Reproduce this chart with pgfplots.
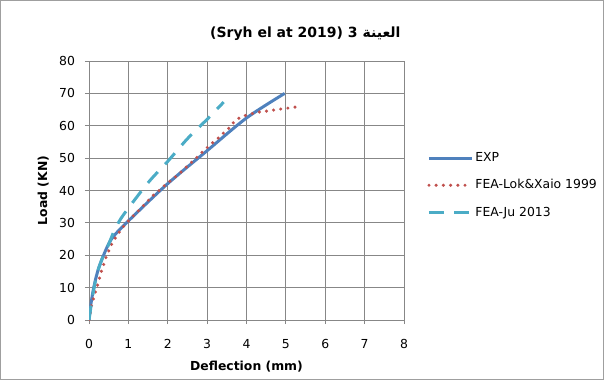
\documentclass[border=0pt]{standalone}
\usepackage{pgfplots}
\pgfplotsset{compat=1.18}
\usepackage{fontspec}
\setmainfont{DejaVu Sans}
\newfontfamily\arabicfont[Script=Arabic]{DejaVu Sans}
\TeXXeTstate=1
\definecolor{expblue}{HTML}{4F81BD}
\definecolor{lokred}{HTML}{C0504D}
\definecolor{jucyan}{HTML}{4BACC6}
\definecolor{gridgray}{HTML}{878787}
\begin{document}
\begin{tikzpicture}
\useasboundingbox (0,0) rectangle (453pt,285pt);
\draw[gridgray!80, line width=0.6pt] (0.3pt,0.3pt) rectangle (452.7pt,284.7pt);
\node[font=\bfseries\fontsize{10.5}{13}\selectfont] at (229pt,260pt) {(Sryh el at 2019) 3 {\arabicfont\bfseries\beginR العينة\endR}};
\begin{axis}[
  at={(66.75pt,45pt)}, anchor=south west,
  scale only axis, width=236.25pt, height=194.25pt,
  xmin=0, xmax=8, ymin=0, ymax=80,
  xtick={0,1,...,8}, ytick={0,10,...,80},
  grid=both, grid style={gridgray, line width=0.6pt},
  axis line style={gridgray, line width=0.6pt},
  tick style={gridgray, line width=0.6pt},
  tick align=outside, major tick length=3pt,
  xtick pos=bottom, ytick pos=left,
  tick label style={font=\fontsize{9.3}{11}\selectfont, /pgf/number format/assume math mode=true},
  xticklabel style={yshift=-8pt},
  yticklabel style={xshift=-4pt},
  xlabel={\textbf{Deflection (mm)}}, ylabel={\textbf{Load (KN)}},
  label style={font=\fontsize{9.3}{11}\selectfont},
  xlabel style={yshift=-2pt},
  ylabel style={yshift=1pt},
  legend style={at={(1.073,0.52)}, anchor=west, draw=none, fill=none, inner sep=0pt,
    nodes={inner xsep=1.5pt, inner ysep=1pt},
    font=\fontsize{9.3}{11}\selectfont, row sep=10pt, legend cell align=left},
  legend image code/.code={\draw[#1] (0pt,0pt) -- (32pt,0pt);},
]
\addplot[expblue, line width=2.25pt, smooth, tension=0.5] coordinates {
(0,0) (0.05,5) (0.12,10) (0.22,15) (0.37,20) (0.57,25) (0.95,30) (1.97,41.8) (2.98,52.1) (4.0,62.4) (4.97,70)
};
\addlegendentry{EXP}
\addplot[lokred, line width=2.6pt, line cap=round, dash pattern=on 0pt off 5.4pt] coordinates {
(0,0) (0.06,4.4) (0.13,7.3) (0.19,9.7) (0.25,12.1) (0.3,14.5) (0.36,16.7) (0.42,19) (0.5,21.3) (0.58,23.6) (0.68,25.6) (0.8,27.7) (0.93,29.7) (1.06,31.4) (1.22,33.3) (1.36,35) (1.48,36.6) (1.63,38.5) (1.77,39.9) (1.92,41.5) (2.08,43.1) (2.24,44.6) (2.39,46.3) (2.53,47.9) (2.68,49.5) (2.81,51.1) (2.96,52.8) (3.11,54.5) (3.27,56) (3.41,57.7) (3.56,59.3) (3.69,61.3) (3.85,62.7) (4.03,63.4) (4.24,64.1) (4.42,64.4) (4.62,64.7) (4.82,65.1) (5.02,65.4) (5.2,65.7) (5.4,66.2)
};
\addlegendentry{FEA-Lok\&Xaio 1999}
\addplot[jucyan, line width=2.25pt, dash pattern=on 11pt off 8pt, smooth, tension=0.5] coordinates {
(0,0) (0.1,8) (0.22,15) (0.36,19.7) (0.48,22.8) (0.65,27.8) (0.87,32.4) (1.5,42.4) (2,49) (2.5,56) (3,62) (3.42,67.3)
};
\addlegendentry{FEA-Ju 2013}
\end{axis}
\end{tikzpicture}
\end{document}
